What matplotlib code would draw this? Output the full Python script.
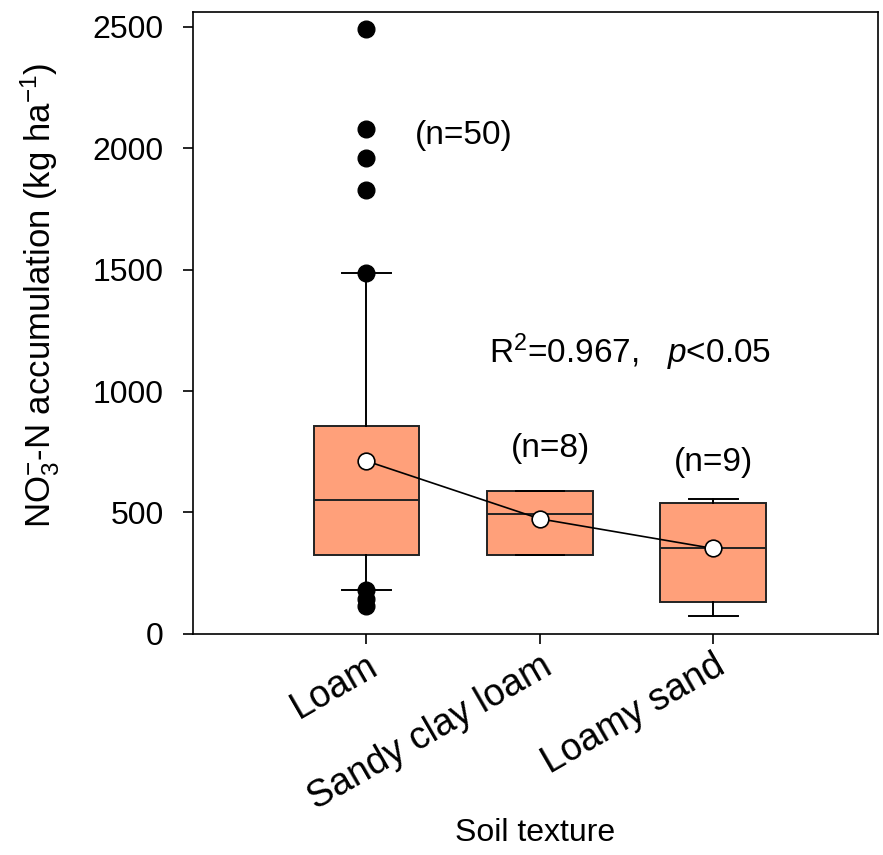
import numpy as np
import matplotlib
matplotlib.use("Agg")
import matplotlib.pyplot as plt

plt.rcParams['font.family'] = ['Liberation Sans', 'DejaVu Sans']
plt.rcParams['mathtext.fontset'] = 'custom'
plt.rcParams['mathtext.rm'] = 'Liberation Sans'
plt.rcParams['mathtext.it'] = 'Liberation Sans:italic'

# Box statistics (kg ha-1)
categories = ["Loam", "Sandy clay loam", "Loamy sand"]
n_samples = [50, 8, 9]
q1 = [325, 325, 132]
median = [552, 494, 354]
q3 = [857, 589, 539]
whisker_low = [181, 325, 74]
whisker_high = [1487, 589, 556]
means = [712, 474, 352]
fliers = [
    [2490, 2080, 1960, 1829, 1487, 181, 145, 115],
    [],
    [],
]
r2_text = "R$^2$=0.967,   $p$<0.05"

positions = np.arange(1, len(categories) + 1)
stats = []
for i in range(len(categories)):
    stats.append(dict(q1=q1[i], med=median[i], q3=q3[i],
                      whislo=whisker_low[i], whishi=whisker_high[i],
                      mean=means[i], fliers=fliers[i]))

fig = plt.figure(figsize=(8.83, 8.55), dpi=100)
ax = fig.add_axes([0.2186, 0.2585, 0.9943 - 0.2186, 0.986 - 0.2585])

ax.bxp(stats, positions=positions, widths=0.61, showmeans=False,
       patch_artist=True, showcaps=True,
       boxprops=dict(facecolor='#FFA07A', edgecolor='#222222', linewidth=1.4),
       medianprops=dict(color='#222222', linewidth=1.4),
       whiskerprops=dict(color='black', linewidth=1.4),
       capprops=dict(color='black', linewidth=1.4),
       capwidths=0.28,
       flierprops=dict(marker='o', markerfacecolor='black', markeredgecolor='black',
                       markersize=12))

# mean line with open circles
ax.plot(positions, means, color='black', linewidth=1.2, zorder=4)
ax.plot(positions, means, 'o', markerfacecolor='white', markeredgecolor='black',
        markersize=12, markeredgewidth=1.2, zorder=5)

# n labels
n_pos = [(1.564, 2051), (2.06, 762), (3.0, 704)]
for (x, y), n in zip(n_pos, n_samples):
    ax.text(x, y, f"(n={n})", fontsize=24, ha='center', va='center')

ax.text(2.52, 1161, r2_text, fontsize=24, ha='center', va='center')

ax.set_xlim(0, 3.95)
ax.set_ylim(0, 2560)
ax.set_yticks([0, 500, 1000, 1500, 2000, 2500])
ax.set_xticks(positions)
ax.set_xticklabels(categories, rotation=30, ha='right', rotation_mode='anchor')
ax.tick_params(axis='both', direction='out', length=7, width=1.2, labelsize=23)
ax.tick_params(axis='y', pad=14)
ax.tick_params(axis='x', labelsize=27, pad=3)
for s in ax.spines.values():
    s.set_linewidth(1.2)

ax.set_ylabel("NO$_3^{-}$-N accumulation (kg ha$^{-1}$)", fontsize=25)
ax.yaxis.set_label_coords(-0.191, 0.545)
ax.set_xlabel("Soil texture", fontsize=23)
ax.xaxis.set_label_coords(0.499, -0.296)

fig.savefig("out.png", dpi=100)
